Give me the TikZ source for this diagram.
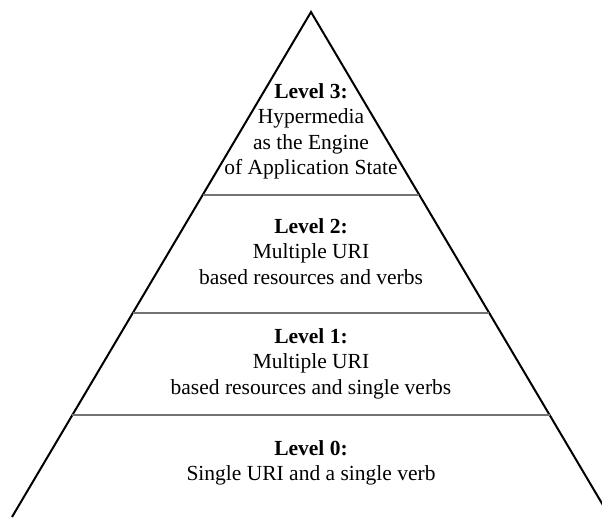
\documentclass[tikz,border=0pt]{standalone}
\usepackage{fontspec}
\setmainfont{Liberation Serif}
\usetikzlibrary{calc}
\tikzset{
  side/.style={draw=black,line width=2pt,line join=miter},
  divider/.style={draw=black!55,line width=1.3pt},
  leveltext/.style={align=center,inner sep=0pt,anchor=north,
    font=\fontsize{21.5}{25.5}\selectfont}
}
\begin{document}
\begin{tikzpicture}[x=1pt,y=-1pt]
  \useasboundingbox (0,0) rectangle (602,517);
  \clip (0,0) rectangle (602,517);
  \coordinate (apex) at (311,12);
  \coordinate (bl) at (12,517);
  \coordinate (br) at (610,517);
  \draw[side] (bl) -- (apex) -- (br);
  \coordinate (l3a) at ($(apex)!0.3624!(bl)$);
  \coordinate (l3b) at ($(apex)!0.3624!(br)$);
  \coordinate (l2a) at ($(apex)!0.596!(bl)$);
  \coordinate (l2b) at ($(apex)!0.596!(br)$);
  \coordinate (l1a) at ($(apex)!0.798!(bl)$);
  \coordinate (l1b) at ($(apex)!0.798!(br)$);
  \draw[divider] (l3a) -- (l3b);
  \draw[divider] (l2a) -- (l2b);
  \draw[divider] (l1a) -- (l1b);
  \node[leveltext] (t3) at (311,83.3) {\textbf{Level 3:}\\Hypermedia\\as the Engine\\of Application State};
  \node[leveltext] (t2) at (311,218.3) {\textbf{Level 2:}\\Multiple URI\\based resources and verbs};
  \node[leveltext] (t1) at (311,328.3) {\textbf{Level 1:}\\Multiple URI\\based resources and single verbs};
  \node[leveltext] (t0) at (311,440.3) {\textbf{Level 0:}\\Single URI and a single verb};
\end{tikzpicture}
\end{document}
